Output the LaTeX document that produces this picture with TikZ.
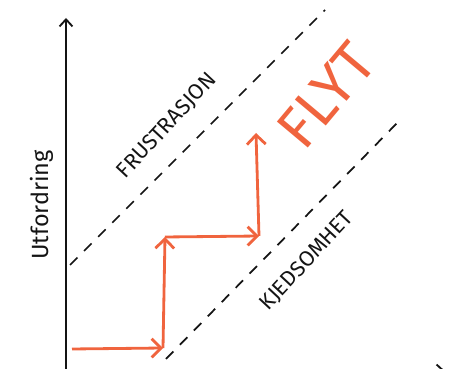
\documentclass[tikz,border=0pt]{standalone}
\usepackage{fontspec}
\setmainfont{Fira Sans}
\usepackage{xcolor}
\usepackage{tikz}
\usetikzlibrary{positioning, calc, arrows.meta}
\definecolor{FlowColor}{RGB}{240,100,62}
\definecolor{InkColor}{RGB}{20,20,20}
\tikzset{
    axis/.style={
        draw=InkColor,
        line width=1.1pt,
        -{Straight Barb[length=6pt, width=11pt, line width=1.6pt]}
    },
    zoneline/.style={
        draw=InkColor,
        line width=1.5pt,
        dash pattern=on 9pt off 8pt
    },
    flowarrow/.style={
        draw=FlowColor,
        line width=2.4pt,
        -{Straight Barb[length=8pt, width=16pt, line width=2.4pt]}
    },
    zonelabel/.style={
        text=InkColor,
        font=\fontsize{18.5}{18.5}\selectfont,
        rotate=47,
        inner sep=0pt
    }
}

\begin{document}
\begin{tikzpicture}[x=0.03cm, y=0.03cm]

\useasboundingbox (0,0) rectangle (476,369);

% Axes
\coordinate (origin) at (66,-2);
\coordinate (ytop) at (66,351);
\coordinate (xend) at (445,-2);
\draw[axis] (origin) -- (ytop);
\draw[axis] (origin) -- (xend);

% Zone borders
\coordinate (upper_a) at (70,104);
\coordinate (upper_b) at (325,359);
\coordinate (lower_a) at (166,10);
\coordinate (lower_b) at (402,251);
\draw[zoneline] (upper_a) -- (upper_b);
\draw[zoneline] (lower_a) -- (lower_b);

% Steps
\coordinate (s0) at (72,20);
\coordinate (s1) at (163,21);
\coordinate (s2) at (165,132);
\coordinate (s3) at (259,133);
\coordinate (s4) at (256,236);
\draw[flowarrow] (s0) -- (s1);
\draw[flowarrow] (s1) -- (s2);
\draw[flowarrow] (s2) -- (s3);
\draw[flowarrow] (s3) -- (s4);

% Labels
\node[text=InkColor, font=\fontsize{20}{20}\selectfont, rotate=90] (l_y) at (42,164) {Utfordring};
\node[zonelabel] (l_frust) at (167,243) {FRUSTRASJON};
\node[zonelabel] (l_kjed) at (307,108) {KJEDSOMHET};
\node[text=FlowColor, font=\fontsize{50}{50}\selectfont, rotate=50, inner sep=0pt] (l_flyt) at (326,274) {FLYT};

\end{tikzpicture}
\end{document}
